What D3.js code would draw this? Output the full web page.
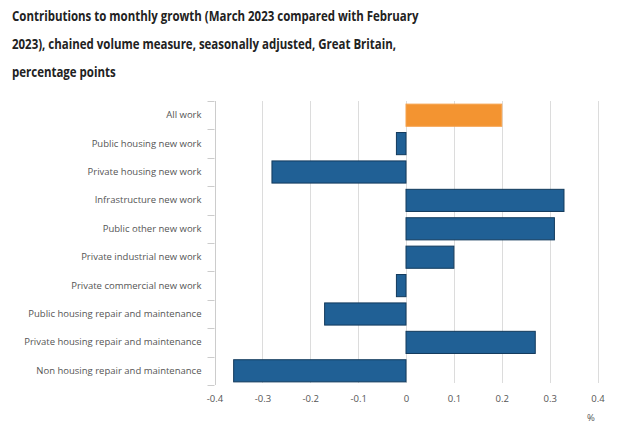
<!DOCTYPE html>
<html><head><meta charset="utf-8">
<script src="https://cdn.jsdelivr.net/npm/d3@7"></script>
<style>body{margin:0;background:#fff;}svg{display:block;}</style>
</head><body>
<svg id="c" width="634" height="429"></svg>
<script>
const titleLines = ["Contributions to monthly growth (March 2023 compared with February","2023), chained volume measure, seasonally adjusted, Great Britain,","percentage points"];
const categories = ["All work","Public housing new work","Private housing new work","Infrastructure new work","Public other new work","Private industrial new work","Private commercial new work","Public housing repair and maintenance","Private housing repair and maintenance","Non housing repair and maintenance"];
const values = [0.2,-0.02,-0.28,0.33,0.31,0.1,-0.02,-0.17,0.27,-0.36];
const xTicks = [-0.4,-0.3,-0.2,-0.1,0,0.1,0.2,0.3,0.4];
const unitLabel = "%";

const svg = d3.select("#c");
const L=214.5,R=597.5,T=101,B=385;
const x = d3.scaleLinear().domain([-0.4,0.4]).range([L,R]);
const y = d3.scaleBand().domain(categories).range([T,B]).paddingInner(0.22).paddingOuter(0.11);

const tg = svg.append("g");
const tt = tg.selectAll("text").data(titleLines).join("text")
  .attr("x",0).attr("y",(d,i)=>21+i*28).text(d=>d)
  .attr("font-family","Open Sans").attr("font-weight",700).attr("font-size",13.5).attr("fill","#222");
const w0 = tt.node().getComputedTextLength();
tg.attr("transform",`translate(12,0) scale(${407/w0},1)`);

svg.append("g").selectAll("line").data(xTicks).join("line")
  .attr("x1",d=>Math.round(x(d))+0.5).attr("x2",d=>Math.round(x(d))+0.5).attr("y1",T).attr("y2",B-2)
  .attr("stroke","#dcdcdc").attr("stroke-width",1);

svg.append("g").selectAll("rect").data(values).join("rect")
  .attr("x",d=>x(Math.min(0,d))).attr("width",d=>Math.abs(x(d)-x(0)))
  .attr("y",(d,i)=>y(categories[i])).attr("height",y.bandwidth())
  .attr("fill",(d,i)=>i===0?"#f39431":"#206095")
  .attr("stroke",(d,i)=>i===0?"#f6a24c":"#123a5c").attr("stroke-width",1);

const ya = svg.append("g").attr("transform",`translate(${L},0)`)
  .call(d3.axisLeft(y).tickSize(0).tickPadding(13));
ya.select(".domain").remove();
ya.selectAll("text").attr("font-family","Open Sans").attr("font-size",9.5).attr("fill","#555");
svg.append("line").attr("x1",Math.round(L)+0.5).attr("x2",Math.round(L)+0.5).attr("y1",T).attr("y2",B).attr("stroke","#ccc");
svg.append("g").selectAll("line").data(categories.concat(["end"])).join("line")
  .attr("x1",L-7).attr("x2",L).attr("y1",(d,i)=>Math.round(T+i*y.step())+0.5).attr("y2",(d,i)=>Math.round(T+i*y.step())+0.5)
  .attr("stroke","#ccc");

const xa = svg.append("g").attr("transform",`translate(0,${B})`)
  .call(d3.axisBottom(x).tickValues(xTicks).tickSize(0).tickPadding(10).tickFormat(d=>d===0?"0":d3.format(".1f")(d).replace("−","-")));
xa.select(".domain").remove();
xa.selectAll("text").attr("font-family","Open Sans").attr("font-size",9.5).attr("fill","#555");

svg.append("text").attr("x",591).attr("y",421).attr("text-anchor","middle").text(unitLabel)
  .attr("font-family","Open Sans").attr("font-size",9.5).attr("fill","#555");
</script>
</body></html>
